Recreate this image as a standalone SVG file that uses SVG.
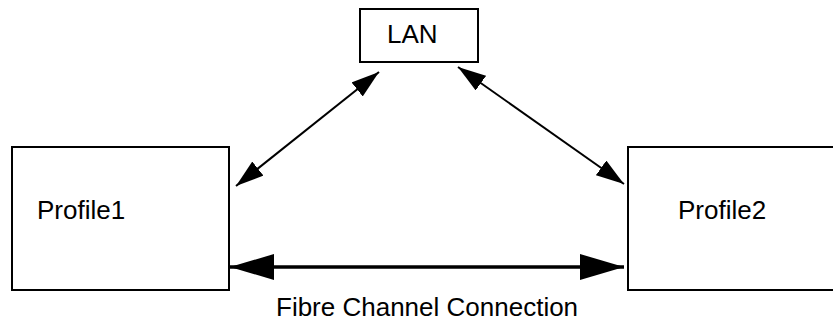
<svg xmlns="http://www.w3.org/2000/svg" width="833" height="324" viewBox="0 0 833 324">
<defs>
<style>
.box{fill:#fff;stroke:#000;stroke-width:2}
.t{font-family:"Liberation Sans",Arial,sans-serif;font-size:26px;fill:#000}
.thin{stroke:#000;stroke-width:2;fill:none}
.thick{stroke:#000;stroke-width:3.5;fill:none}
</style>
<marker id="ah" viewBox="0 0 28 18" refX="28" refY="9" markerWidth="28" markerHeight="18" markerUnits="userSpaceOnUse" orient="auto-start-reverse">
<path d="M0,0 L28,9 L0,18 Z" fill="#000"/>
</marker>
<marker id="ahb" viewBox="0 0 44 26" refX="44" refY="13" markerWidth="44" markerHeight="26" markerUnits="userSpaceOnUse" orient="auto-start-reverse">
<path d="M0,0 L44,13 L0,26 Z" fill="#000"/>
</marker>
</defs>
<rect width="833" height="324" fill="#fff"/>
<g id="lan">
<rect class="box" x="360" y="9" width="118" height="53"/>
<text class="t" x="387" y="43">LAN</text>
</g>
<g id="profile1">
<rect class="box" x="12" y="147" width="217" height="143"/>
<text class="t" x="37" y="219">Profile1</text>
</g>
<g id="profile2">
<rect class="box" x="628" y="147" width="210" height="143"/>
<text class="t" x="678" y="219">Profile2</text>
</g>
<g id="connectors">
<line class="thin" x1="379" y1="72" x2="236" y2="186" marker-start="url(#ah)" marker-end="url(#ah)"/>
<line class="thin" x1="458" y1="67" x2="624" y2="184" marker-start="url(#ah)" marker-end="url(#ah)"/>
<line class="thick" x1="230" y1="267" x2="624" y2="267" marker-start="url(#ahb)" marker-end="url(#ahb)"/>
</g>
<text class="t" x="276" y="316">Fibre Channel Connection</text>
</svg>
